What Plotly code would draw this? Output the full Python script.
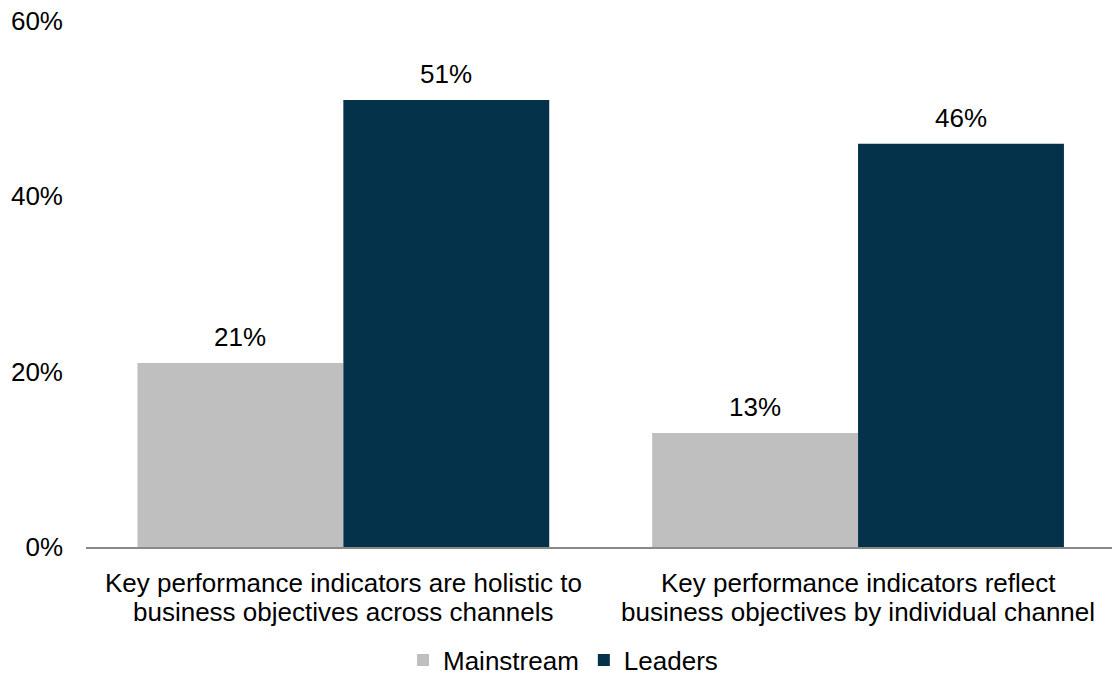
import plotly.graph_objects as go

# Survey categories and the share of each segment agreeing
categories = [
    "Key performance indicators are holistic to<br>business objectives across channels",
    "Key performance indicators reflect<br>business objectives by individual channel",
]
series_names = ["Mainstream", "Leaders"]
mainstream = [21, 13]
leaders = [51, 46]
y_ticks = [0, 20, 40, 60]

colors = {"Mainstream": "#BFBFBF", "Leaders": "#03324A"}
FONT = "Liberation Sans, Arial, sans-serif"
FS = 26
BAR_W = 0.4

fig = go.Figure()
positions = list(range(len(categories)))
for name, values, offset in [("Mainstream", mainstream, -BAR_W / 2), ("Leaders", leaders, BAR_W / 2)]:
    xs = [p + offset for p in positions]
    fig.add_trace(go.Bar(
        x=xs, y=values, width=BAR_W, name=name,
        marker=dict(color=colors[name], line=dict(width=0)),
        hovertemplate="%{y}%<extra>" + name + "</extra>",
    ))
    # value labels above each bar
    for x, v in zip(xs, values):
        fig.add_annotation(
            x=x, y=v, text=f"{v}%", showarrow=False,
            yanchor="bottom", yshift=9,
            font=dict(family=FONT, size=FS, color="#000000"),
        )

# category labels under the axis, one annotation per line for tight leading
for p, label in zip(positions, categories):
    for k, line in enumerate(label.split("<br>")):
        fig.add_annotation(
            x=p, y=0, text=line, showarrow=False,
            yanchor="middle", yshift=-36 - 29 * k,
            font=dict(family=FONT, size=FS, color="#000000"),
        )

fig.update_layout(
    width=1112, height=677,
    margin=dict(l=86, r=0, t=21, b=130),
    paper_bgcolor="white", plot_bgcolor="white",
    font=dict(family=FONT, size=FS, color="#000000"),
    barmode="overlay",
    showlegend=True,
    legend=dict(
        orientation="h", xref="container", yref="container",
        x=0.5063, xanchor="center", y=1 - 660 / 677, yanchor="middle",
        font=dict(family=FONT, size=FS, color="#000000"),
        itemwidth=30, traceorder="normal",
    ),
)
fig.update_xaxes(
    range=[-0.5, 1.4934], tickvals=positions, showticklabels=False,
    showgrid=False, zeroline=False, showline=True,
    linecolor="#898989", linewidth=2, ticks="", fixedrange=True,
)
fig.update_yaxes(
    range=[0, 60], tickvals=y_ticks, ticktext=[f"{t}%" for t in y_ticks],
    showgrid=False, zeroline=False, showline=False, ticks="",
    tickfont=dict(family=FONT, size=FS, color="#000000"),
    ticklabelstandoff=22, fixedrange=True,
)

fig.write_html("out.html")
